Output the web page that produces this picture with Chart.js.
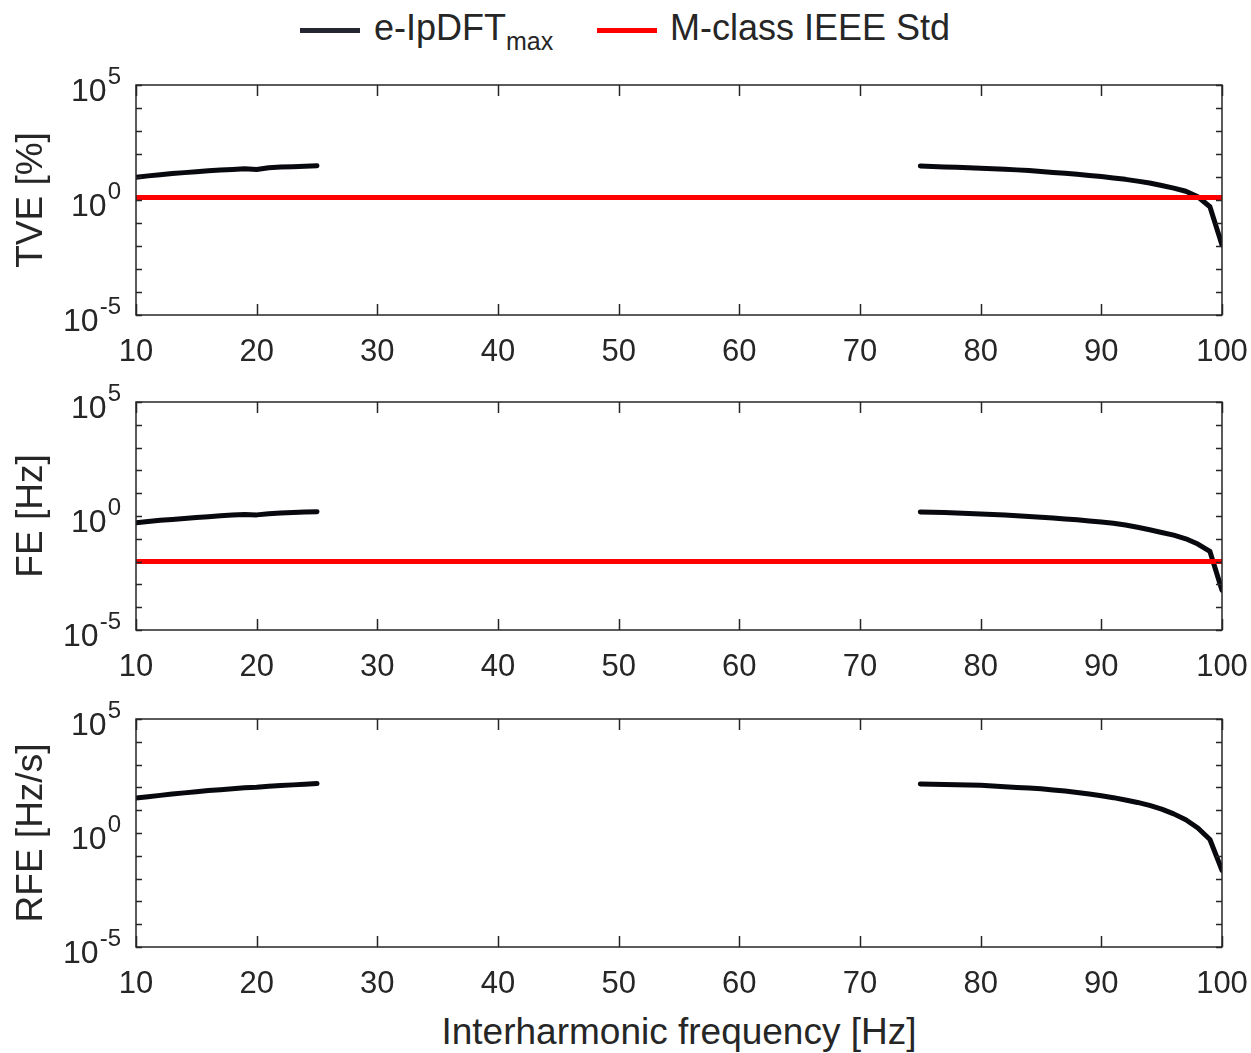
<!DOCTYPE html>
<html>
<head>
<meta charset="utf-8">
<script src="https://cdn.jsdelivr.net/npm/chart.js@4/dist/chart.umd.min.js"></script>
<style>
  body { margin: 0; background: #fff; font-family: 'Liberation Sans', Arial, sans-serif; color: #262626; }
  #wrap { position: relative; width: 1251px; height: 1053px; }
  canvas { position: absolute; left: 0; }
  .sw { position: absolute; height: 5px; width: 60px; top: 28px; }
  .lt { position: absolute; top: 8px; font-size: 36px; line-height: 40px; white-space: nowrap; }
  .lt sub { font-size: 25px; vertical-align: -10px; }
  #xt { position: absolute; left: 136px; width: 1086px; top: 1010px; text-align: center; font-size: 37px; line-height: 44px; }
</style>
</head>
<body>
<div id="wrap">
  <div class="sw" style="left:300px;background:#262633"></div>
  <div class="lt" style="left:374px">e-IpDFT<sub>max</sub></div>
  <div class="sw" style="left:597px;background:#ff0000"></div>
  <div class="lt" style="left:670px">M-class IEEE Std</div>
  <canvas id="c1" width="1251" height="315" style="top:60px"></canvas>
  <canvas id="c2" width="1251" height="313" style="top:377px"></canvas>
  <canvas id="c3" width="1251" height="313" style="top:694px"></canvas>
  <div id="xt">Interharmonic frequency [Hz]</div>
</div>
<script>
// interharmonic frequencies [Hz]
const freqLeft = [10,11,12,13,14,15,16,17,18,19,20,21,22,23,24,25];
const freqRight = [75,76,77,78,79,80,81,82,83,84,85,86,87,88,89,90,91,92,93,94,95,96,97,98,99,100];

// TVE [%]
const tveLeft = [9.8,11.2,12.6,14.1,15.5,17.0,18.6,20.0,21.4,22.9,21.4,25.1,26.9,28.2,29.5,30.9];
const tveRight = [30.2,28.8,27.5,26.3,25.1,24.0,22.9,21.9,20.4,19.1,17.4,15.8,14.5,13.2,11.7,10.5,
                  9.1,7.9,6.6,5.5,4.3,3.3,2.4,1.38,0.51,0.011];

// FE [Hz]
const feLeft = [0.51,0.58,0.65,0.71,0.78,0.85,0.93,1.02,1.10,1.17,1.12,1.26,1.35,1.41,1.48,1.55];
const feRight = [1.51,1.45,1.41,1.35,1.29,1.23,1.17,1.10,1.02,0.95,0.89,0.81,0.74,0.68,0.60,0.54,
                 0.48,0.40,0.32,0.25,0.19,0.145,0.10,0.059,0.028,0.00056];

// RFE [Hz/s]
const rfeLeft = [33.9,38.9,44.7,51.3,57.5,64.6,72.4,79.4,87.1,95.5,102,112,120,129,138,148];
const rfeRight = [141,138,135,132,126,123,115,107,100,93.3,87.1,77.6,69.2,60.3,51.3,42.7,
                  35.5,28.2,21.9,16.2,11.2,6.9,3.8,1.66,0.52,0.023];

// M-class limits
const tveLimit = 1.3;
const feLimit = 0.01;

const xTicks = [10,20,30,40,50,60,70,80,90,100];
const yDecades = [-5,-4,-3,-2,-1,0,1,2,3,4,5];
const yLabelled = [-5,0,5];

const ink = '#262626';

function series(fl, vl, fr, vr) {
  const pts = fl.map((f, i) => ({x: f, y: vl[i]}));
  pts.push({x: 50, y: null});
  return pts.concat(fr.map((f, i) => ({x: f, y: vr[i]})));
}

const axesPlugin = {
  id: 'matlabAxes',
  afterDatasetsDraw(chart, args, opts) {
    const {ctx, chartArea: a, scales: {x, y}} = chart;
    ctx.save();
    ctx.strokeStyle = ink;
    ctx.lineWidth = 1.5;
    ctx.beginPath();
    yDecades.forEach(e => {
      const py = Math.round(y.getPixelForValue(Math.pow(10, e))) + 0.5;
      ctx.moveTo(a.left, py); ctx.lineTo(a.left + 6, py);
      ctx.moveTo(a.right, py); ctx.lineTo(a.right - 6, py);
    });
    xTicks.forEach(v => {
      const px = Math.round(x.getPixelForValue(v)) + 0.5;
      ctx.moveTo(px, a.bottom); ctx.lineTo(px, a.bottom - 11);
      ctx.moveTo(px, a.top); ctx.lineTo(px, a.top + 11);
    });
    ctx.stroke();
    ctx.strokeRect(a.left, a.top, a.right - a.left, a.bottom - a.top);

    ctx.fillStyle = ink;
    ctx.font = '31px "Liberation Sans", Arial, sans-serif';
    ctx.textAlign = 'center';
    ctx.textBaseline = 'middle';
    xTicks.forEach(v => ctx.fillText(String(v), x.getPixelForValue(v), a.bottom + 37));

    yLabelled.forEach(e => {
      const py = y.getPixelForValue(Math.pow(10, e));
      const ex = e < 0 ? '-' + Math.abs(e) : String(e);
      ctx.font = '24px "Liberation Sans", Arial, sans-serif';
      const w = ctx.measureText(ex).width;
      const ex0 = a.left - 15 - w;
      ctx.textAlign = 'left';
      ctx.fillText(ex, ex0, py - 8);
      ctx.font = '32px "Liberation Sans", Arial, sans-serif';
      ctx.textAlign = 'right';
      ctx.fillText('10', ex0 - 1, py + 7);
    });

    ctx.font = '37px "Liberation Sans", Arial, sans-serif';
    ctx.textAlign = 'center';
    ctx.translate(32, (a.top + a.bottom) / 2);
    ctx.rotate(-Math.PI / 2);
    ctx.fillText(opts.title, 0, 0);
    ctx.restore();
  }
};

function makePanel(id, title, data, limit) {
  const datasets = [{
    data: data,
    borderColor: '#08080f',
    borderWidth: 5,
    borderCapStyle: 'round',
    borderJoinStyle: 'round',
    spanGaps: false,
    order: 1
  }];
  if (limit !== null) {
    datasets.push({
      data: [{x: 10, y: limit}, {x: 100, y: limit}],
      borderColor: '#ff0000',
      borderWidth: 5,
      order: 0
    });
  }
  new Chart(document.getElementById(id), {
    type: 'line',
    data: {datasets: datasets},
    plugins: [axesPlugin],
    options: {
      responsive: false,
      animation: false,
      layout: {padding: {left: 136, right: 29, top: 25, bottom: 60}},
      elements: {point: {radius: 0}, line: {tension: 0}},
      plugins: {legend: {display: false}, tooltip: {enabled: false}, matlabAxes: {title: title}},
      scales: {
        x: {type: 'linear', min: 10, max: 100, display: false},
        y: {type: 'logarithmic', min: 1e-5, max: 1e5, display: false}
      }
    }
  });
}

makePanel('c1', 'TVE [%]', series(freqLeft, tveLeft, freqRight, tveRight), tveLimit);
makePanel('c2', 'FE [Hz]', series(freqLeft, feLeft, freqRight, feRight), feLimit);
makePanel('c3', 'RFE [Hz/s]', series(freqLeft, rfeLeft, freqRight, rfeRight), null);
</script>
</body>
</html>
